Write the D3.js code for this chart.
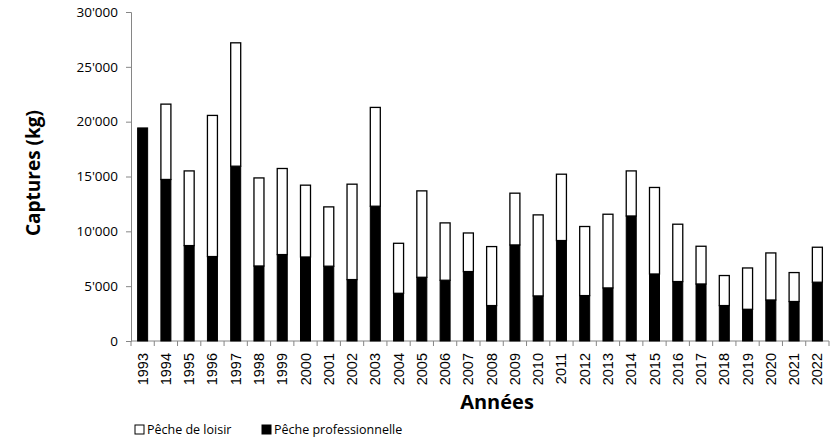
<!DOCTYPE html>
<html>
<head>
<meta charset="utf-8">
<script src="https://cdn.jsdelivr.net/npm/d3@7"></script>
<style>
  body { margin: 0; background: #fff; }
  svg { display: block; }
</style>
</head>
<body>
<div id="chart"></div>
<script>
// years and catches (kg)
const years = ["1993","1994","1995","1996","1997","1998","1999","2000","2001","2002",
    "2003","2004","2005","2006","2007","2008","2009","2010","2011","2012",
    "2013","2014","2015","2016","2017","2018","2019","2020","2021","2022"];

const professionnelle = [19430, 14730, 8700, 7700, 15940, 6840, 7880, 7660, 6820, 5600,
    12290, 4350, 5810, 5540, 6330, 3230, 8760, 4110, 9160, 4140,
    4840, 11400, 6110, 5420, 5200, 3230, 2890, 3740, 3600, 5360];

// total catches (professional + leisure)
const totals = [19430, 21600, 15510, 20570, 27190, 14870, 15730, 14210, 12230, 14300,
    21300, 8910, 13690, 10770, 9850, 8610, 13480, 11500, 15210, 10440,
    11560, 15510, 14000, 10650, 8640, 5970, 6660, 8030, 6240, 8550];

const loisir = totals.map((t, i) => t - professionnelle[i]);

const yTicks = [0, 5000, 10000, 15000, 20000, 25000, 30000];

const W = 830, H = 441;
const margin = { top: 12, right: 1, bottom: 100, left: 131 },
    width = W - margin.left - margin.right,
    height = 341 - margin.top;

const svg = d3.select("#chart")
    .append("svg")
    .attr("width", W)
    .attr("height", H);

const group = svg.append("g")
    .attr("transform", "translate(" + margin.left + "," + margin.top + ")");

const x = d3.scaleBand()
    .domain(years)
    .range([0, width])
    .paddingInner(0.57)
    .paddingOuter(0.285);

const y = d3.scaleLinear()
    .domain([0, 30000])
    .range([height, 0]);

const fmt = d => d3.format(",")(d).replace(/,/g, "'");

// y axis
const yAxis = d3.axisLeft(y)
    .tickValues(yTicks)
    .tickSize(5)
    .tickPadding(8)
    .tickFormat(fmt);

const yDisplay = group.append("g")
    .attr("class", "axis y-axis")
    .call(yAxis);
yDisplay.selectAll("line, path").attr("stroke", "#868686");
yDisplay.selectAll("text")
    .attr("font-family", "'Open Sans', sans-serif")
    .attr("font-size", 13.5)
    .attr("fill", "#000");

// x axis: ticks between categories
const step = x.step();
const xAxisG = group.append("g")
    .attr("class", "axis x-axis")
    .attr("transform", `translate(0, ${height})`);
xAxisG.append("line")
    .attr("x1", 0).attr("x2", width)
    .attr("y1", 0).attr("y2", 0)
    .attr("stroke", "#868686");
xAxisG.selectAll(".sep")
    .data(d3.range(years.length + 1))
    .join("line")
    .attr("class", "sep")
    .attr("x1", i => i * step).attr("x2", i => i * step)
    .attr("y1", 0).attr("y2", 5)
    .attr("stroke", "#868686");
xAxisG.selectAll(".lbl")
    .data(years)
    .join("text")
    .attr("class", "lbl")
    .attr("transform", d => `translate(${x(d) + x.bandwidth() / 2 + 5}, 12) rotate(-90)`)
    .attr("text-anchor", "end")
    .attr("font-family", "'Liberation Sans', Arial, sans-serif")
    .attr("font-size", 14.5)
    .text(d => d);

// stacked bars
group.selectAll(".pro")
    .data(years)
    .join("rect")
    .attr("class", "pro")
    .attr("x", d => x(d))
    .attr("y", (d, i) => y(professionnelle[i]))
    .attr("width", x.bandwidth())
    .attr("height", (d, i) => height - y(professionnelle[i]))
    .attr("fill", "#000")
    .attr("stroke", "#000")
    .attr("stroke-width", 1);

group.selectAll(".loisir")
    .data(years)
    .join("rect")
    .attr("class", "loisir")
    .attr("x", d => x(d))
    .attr("y", (d, i) => y(totals[i]))
    .attr("width", x.bandwidth())
    .attr("height", (d, i) => y(professionnelle[i]) - y(totals[i]))
    .attr("fill", "#fff")
    .attr("stroke", "#000")
    .attr("stroke-width", 1.3);

// axis titles
svg.append("text")
    .attr("transform", "translate(40, 173) rotate(-90)")
    .attr("text-anchor", "middle")
    .attr("font-family", "'Open Sans', sans-serif")
    .attr("font-weight", "bold")
    .attr("font-size", 19)
    .text("Captures (kg)");

svg.append("text")
    .attr("x", 497)
    .attr("y", 409)
    .attr("text-anchor", "middle")
    .attr("font-family", "'Open Sans', sans-serif")
    .attr("font-weight", "bold")
    .attr("font-size", 20)
    .text("Années");

// legend
const legend = [
    { label: "Pêche de loisir", fill: "#fff", x: 135 },
    { label: "Pêche professionnelle", fill: "#000", x: 262 }
];
const lg = svg.selectAll(".legend")
    .data(legend)
    .join("g")
    .attr("class", "legend")
    .attr("transform", d => `translate(${d.x}, 425)`);
lg.append("rect")
    .attr("width", 9).attr("height", 9)
    .attr("fill", d => d.fill)
    .attr("stroke", "#000")
    .attr("stroke-width", 1);
lg.append("text")
    .attr("x", 12)
    .attr("y", 9)
    .attr("font-family", "'Open Sans', sans-serif")
    .attr("font-size", 12.5)
    .text(d => d.label);
</script>
</body>
</html>
